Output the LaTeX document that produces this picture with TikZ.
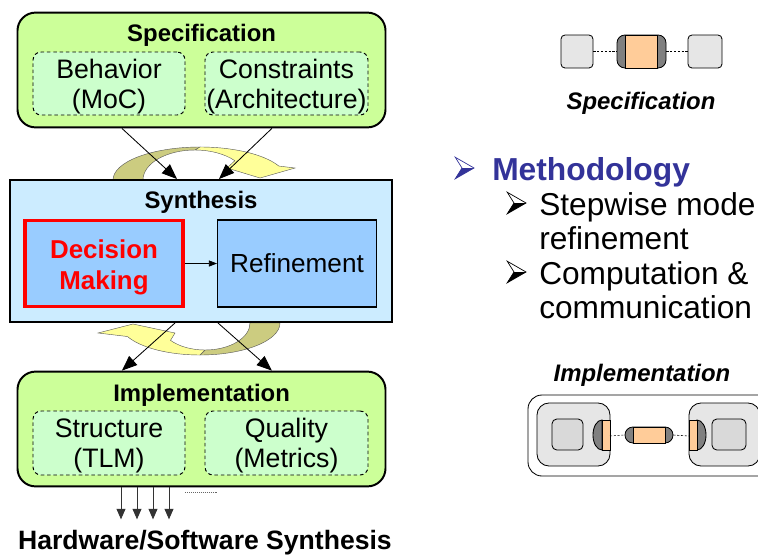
\documentclass[tikz,border=0pt]{standalone}
\usepackage{fontspec}
\setmainfont{Liberation Sans}
\usepackage{tikz}
\usetikzlibrary{arrows.meta, positioning, calc}
\definecolor{specgreen}{HTML}{CCFF99}
\definecolor{mintfill}{HTML}{CCFFCC}
\definecolor{synblue}{HTML}{CCECFF}
\definecolor{boxblue}{HTML}{99CCFF}
\definecolor{khaki}{HTML}{CCCC80}
\definecolor{paleyellow}{HTML}{FFFF99}
\definecolor{methblue}{HTML}{333399}
\definecolor{portgray}{HTML}{808080}
\definecolor{portorange}{HTML}{FFCC99}
\definecolor{iconlight}{HTML}{E6E6E6}
\definecolor{icondark}{HTML}{D9D9D9}

\begin{document}
\begin{tikzpicture}[node distance=0.8cm, every node/.style={inner sep=0pt}]
\tikzstyle{grp}=[draw, line width=1.4pt, rounded corners=0.45cm, fill=specgreen, minimum width=9.2cm, minimum height=2.87cm]
\tikzstyle{sub}=[draw, dashed, line width=0.7pt, dash pattern=on 2.5pt off 2pt, rounded corners=0.2cm, fill=mintfill, minimum height=1.575cm, align=center, font=\fontsize{19}{21.3}\selectfont, text height=39.4pt, text depth=4pt]
\tikzstyle{ttl}=[font=\fontsize{17}{20}\selectfont\bfseries]
\tikzstyle{stage}=[draw, line width=0.9pt, fill=boxblue, minimum height=2.17cm, align=center, font=\fontsize{18.6}{22}\selectfont]
\tikzstyle{ar}=[-{Triangle[length=0.38cm, width=0.3cm]}, line width=0.6pt]
\tikzstyle{hsar}=[-{Triangle[length=0.26cm, width=0.22cm]}, line width=0.7pt, black!80]
\tikzstyle{band}=[draw=black!65, line width=0.3pt]
\tikzstyle{proc}=[draw, line width=0.6pt, fill=iconlight]
\tikzstyle{lnk}=[dashed, dash pattern=on 1.5pt off 1.2pt, line width=0.4pt]
\tikzstyle{lbl}=[font=\fontsize{17}{20}\selectfont\bfseries\itshape]
\tikzstyle{item}=[anchor=west, align=left, font=\fontsize{22.5}{24.5}\selectfont]

\useasboundingbox (0,0) rectangle (18.95,-13.875);
\clip (0,0) rectangle (18.95,-13.875);

\fill[khaki, band] (2.825,-4.5) arc[start angle=180, end angle=90, x radius=2.175cm, y radius=0.825cm]
  -- (4.875,-3.75) arc[start angle=90, end angle=180, x radius=1.3cm, y radius=0.75cm] -- cycle;
\fill[paleyellow, band] (5,-3.675) arc[start angle=90, end angle=25, x radius=2.175cm, y radius=0.825cm]
  -- (7.375,-4.2) -- (6.5,-4.45) -- (5.675,-4.2) -- (5.871,-4.018)
  arc[start angle=40, end angle=90, x radius=1.3cm, y radius=0.75cm] -- cycle;
\fill[khaki, band] (7,-8.075) arc[start angle=0, end angle=-90, x radius=2cm, y radius=0.8cm]
  -- (5.125,-8.75) arc[start angle=-90, end angle=0, x radius=1.125cm, y radius=0.675cm] -- cycle;
\fill[paleyellow, band] (5,-8.875) arc[start angle=-90, end angle=-155, x radius=2cm, y radius=0.8cm]
  -- (2.45,-8.325) -- (3.325,-8.1) -- (4.375,-8.325) -- (4.263,-8.509)
  arc[start angle=-140, end angle=-90, x radius=1.125cm, y radius=0.675cm] -- cycle;

\node[grp](spec) at (5.0375,-1.75){};
\node[ttl](specttl) at (5.04,-0.875){Specification};
\node[sub, minimum width=3.8cm](beh) at (2.725,-2.0875){Behavior\\(MoC)};
\node[sub, minimum width=4.075cm](con) at (7.1625,-2.0875){Constraints\\(Architecture)};

\node[draw, line width=1.4pt, fill=synblue, minimum width=9.55cm, minimum height=3.55cm](syn) at (5.025,-6.275){};
\node[ttl](synttl) at (5.025,-5.05){Synthesis};
\node[stage, draw=red, line width=2.5pt, minimum width=3.96cm, minimum height=2.14cm, text=red, font=\fontsize{18.4}{22}\selectfont\bfseries, text height=41.1pt, text depth=3.9pt](dec) at (2.6,-6.5875){Decision\\Making};
\node[stage, minimum width=3.97cm, right=0.8cm of dec](ref){Refinement};
\draw[-{Triangle[length=0.2cm, width=0.15cm]}, line width=0.5pt](dec)--(ref);

\node[grp](impl) at (5.0375,-10.725){};
\node[ttl](implttl) at (5.04,-9.875){Implementation};
\node[sub, minimum width=3.8cm, minimum height=1.6cm](str) at (2.725,-11.075){Structure\\(TLM)};
\node[sub, minimum width=4.075cm, minimum height=1.6cm](qua) at (7.1625,-11.075){Quality\\(Metrics)};

\draw[ar]([xshift=-1.99cm]spec.south)--([xshift=-0.6cm]syn.north);
\draw[ar]([xshift=1.76cm]spec.south)--([xshift=0.45cm]syn.north);
\draw[ar]([xshift=-0.65cm]syn.south)--([xshift=-1.99cm]impl.north);
\draw[ar]([xshift=0.425cm]syn.south)--([xshift=1.76cm]impl.north);

\foreach \dx in {-2.0125,-1.6125,-1.2125,-0.8125}
  \draw[hsar]([xshift=\dx cm]impl.south)--++(0,-0.8);
\draw[densely dotted, line width=0.4pt, black!60](4.625,-12.3)--(5.425,-12.3);
\node[font=\fontsize{18.9}{22}\selectfont\bfseries](hwsw) at (5.125,-13.57){Hardware/Software Synthesis};

\node[proc, rounded corners=0.1cm, minimum width=0.8cm, minimum height=0.825cm](spA) at (14.425,-1.2875){};
\node[draw, line width=0.6pt, fill=portgray, rounded corners=0.2cm, minimum width=1.225cm, minimum height=0.825cm](spch) at (16.0375,-1.2875){};
\node[draw, line width=0.6pt, fill=portorange, minimum width=0.8cm, minimum height=0.825cm] at (spch){};
\node[proc, rounded corners=0.1cm, minimum width=0.85cm, minimum height=0.825cm](spB) at (17.625,-1.2875){};
\draw[lnk](spA)--(spch);
\draw[lnk](spch)--(spB);
\node[lbl](speclbl) at (16.025,-2.575){Specification};

\foreach \x/\y/\c in {11.55/-4.2/methblue, 12.85/-5.075/black, 12.85/-6.8/black}{
  \draw[\c, line width=0.5pt, line join=miter](\x-0.17,\y+0.27)--(\x+0.3,\y)--(\x-0.17,\y-0.27)--(\x,\y)--cycle;
  \fill[\c](\x,\y)--(\x+0.3,\y)--(\x-0.17,\y-0.27)--cycle;
}
\node[anchor=west, text=methblue, font=\fontsize{22.6}{26}\selectfont\bfseries](meth) at (12.3,-4.32){Methodology};
\node[item](it1) at (13.475,-5.525){Stepwise mode\\refinement};
\node[item](it2) at (13.475,-7.25){Computation \&\\communication};

\node[lbl](impllbl) at (16.05,-9.375){Implementation};
\node[draw, line width=0.6pt, rounded corners=0.35cm, fill=white, minimum width=6.1cm, minimum height=2.025cm](sys) at (16.25,-10.8875){};
\node[proc, rounded corners=0.3cm, minimum width=1.825cm, minimum height=1.575cm](peA) at (14.3375,-10.8625){};
\node[proc, fill=icondark, rounded corners=0.12cm, minimum width=0.775cm, minimum height=0.775cm](cpuA) at (14.1875,-10.8625){};
\draw[line width=0.6pt, fill=portgray](15.05,-10.5) arc[start angle=90, end angle=270, x radius=0.225cm, y radius=0.375cm]--cycle;
\draw[line width=0.6pt, fill=portorange](15.05,-10.5) rectangle (15.25,-11.25);
\node[proc, rounded corners=0.3cm, minimum width=1.775cm, minimum height=1.575cm](peB) at (18.1125,-10.8625){};
\node[proc, fill=icondark, rounded corners=0.12cm, minimum width=0.85cm, minimum height=0.775cm](cpuB) at (18.225,-10.8625){};
\draw[line width=0.6pt, fill=portgray](17.425,-10.5) arc[start angle=90, end angle=-90, x radius=0.225cm, y radius=0.375cm]--cycle;
\draw[line width=0.6pt, fill=portorange](17.225,-10.5) rectangle (17.425,-11.25);
\node[draw, line width=0.6pt, fill=portgray, rounded corners=0.2cm, minimum width=1.2cm, minimum height=0.4cm](bus) at (16.225,-10.875){};
\node[draw, line width=0.6pt, fill=portorange, minimum width=0.8cm, minimum height=0.4cm] at (bus){};
\coordinate(pA) at (15.25,-10.9);
\coordinate(pB) at (17.225,-10.9);
\draw[lnk](pA)--(bus.west);
\draw[lnk](bus.east)--(pB);
\end{tikzpicture}
\end{document}
